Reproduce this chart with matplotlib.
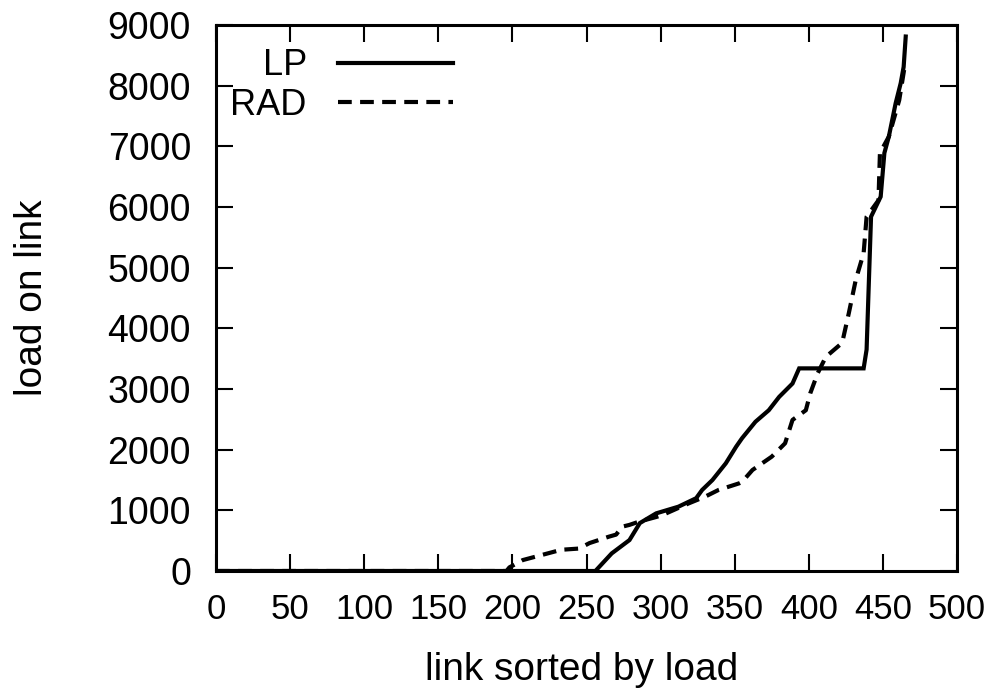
import matplotlib
matplotlib.use("Agg")
import matplotlib.pyplot as plt
from matplotlib import font_manager

lp_x = [0, 256, 267, 279, 286, 297, 312, 324, 328, 335, 344, 351, 355, 364, 373, 380, 389, 393.5,
        437, 439, 442, 448.5, 451, 454, 458.6, 462, 464, 465.4]
lp_y = [0, 0, 290, 510, 790, 950, 1060, 1200, 1335, 1500, 1775, 2050, 2190, 2460, 2650, 2870, 3090, 3340,
        3340, 3650, 5840, 6170, 6890, 7160, 7710, 8040, 8310, 8810]

rad_x = [0, 196, 198, 207, 233, 245, 252, 265, 270, 274, 279, 285, 297, 301, 319, 330, 339, 353, 355,
         362, 375, 384, 389, 398, 401, 406, 411.5, 422.5, 427, 431.7, 437, 439, 447, 448, 454, 461, 464.5]
rad_y = [0, 0, 60, 180, 350, 370, 460, 565, 600, 730, 760, 810, 890, 920, 1115, 1225, 1335, 1445, 1470,
         1665, 1885, 2105, 2490, 2650, 2930, 3260, 3530, 3760, 4250, 4800, 5240, 5840, 6110, 6890, 7160, 7760, 8290]

x_ticks = [0, 50, 100, 150, 200, 250, 300, 350, 400, 450, 500]
y_ticks = [0, 1000, 2000, 3000, 4000, 5000, 6000, 7000, 8000, 9000]

plt.rcParams['font.family'] = ['Liberation Sans', 'DejaVu Sans']

try:
    font_manager.findfont(font_manager.FontProperties(family='Liberation Sans Narrow'),
                          fallback_to_default=False)
    xt_family, xt_size = ['Liberation Sans Narrow', 'Liberation Sans'], 28
except Exception:
    xt_family, xt_size = ['Liberation Sans', 'DejaVu Sans'], 25

fig = plt.figure(figsize=(9.98, 6.92), dpi=100)
ax = fig.add_axes([216/998, (692-571)/692, (957-216)/998, (571-25)/692])

ax.plot(lp_x, lp_y, color='black', lw=3.0, label='LP', solid_joinstyle='miter')
ax.plot(rad_x, rad_y, color='black', lw=3.0, ls=(0, (3.3, 2.0)), label='RAD')

ax.set_xlim(0, 500)
ax.set_ylim(0, 9000)
ax.set_xticks(x_ticks)
ax.set_yticks(y_ticks)
ax.tick_params(direction='in', length=12.5, width=1.5, top=True, right=True)
ax.tick_params(axis='x', pad=16, labelsize=xt_size)
ax.tick_params(axis='y', pad=18, labelsize=27)
for lab in ax.get_xticklabels():
    lab.set_family(xt_family)
for s in ax.spines.values():
    s.set_linewidth(2.2)

fig.text(582/998, 1 - 680/692, 'link sorted by load', fontsize=28,
         ha='center', va='baseline')
fig.text(42/998, 1 - 298/692, 'load on link', fontsize=28,
         ha='center', va='baseline', rotation=90, rotation_mode='anchor')

leg = ax.legend(loc='upper left', frameon=False, fontsize=26, markerfirst=False,
                handlelength=3.2, handletextpad=0.85, labelspacing=0.12,
                bbox_to_anchor=(0.0, 1.0 - 9/546), borderaxespad=0.0)
for t in leg.get_texts():
    t.set_ha('right')

fig.savefig('out.png', dpi=100)
